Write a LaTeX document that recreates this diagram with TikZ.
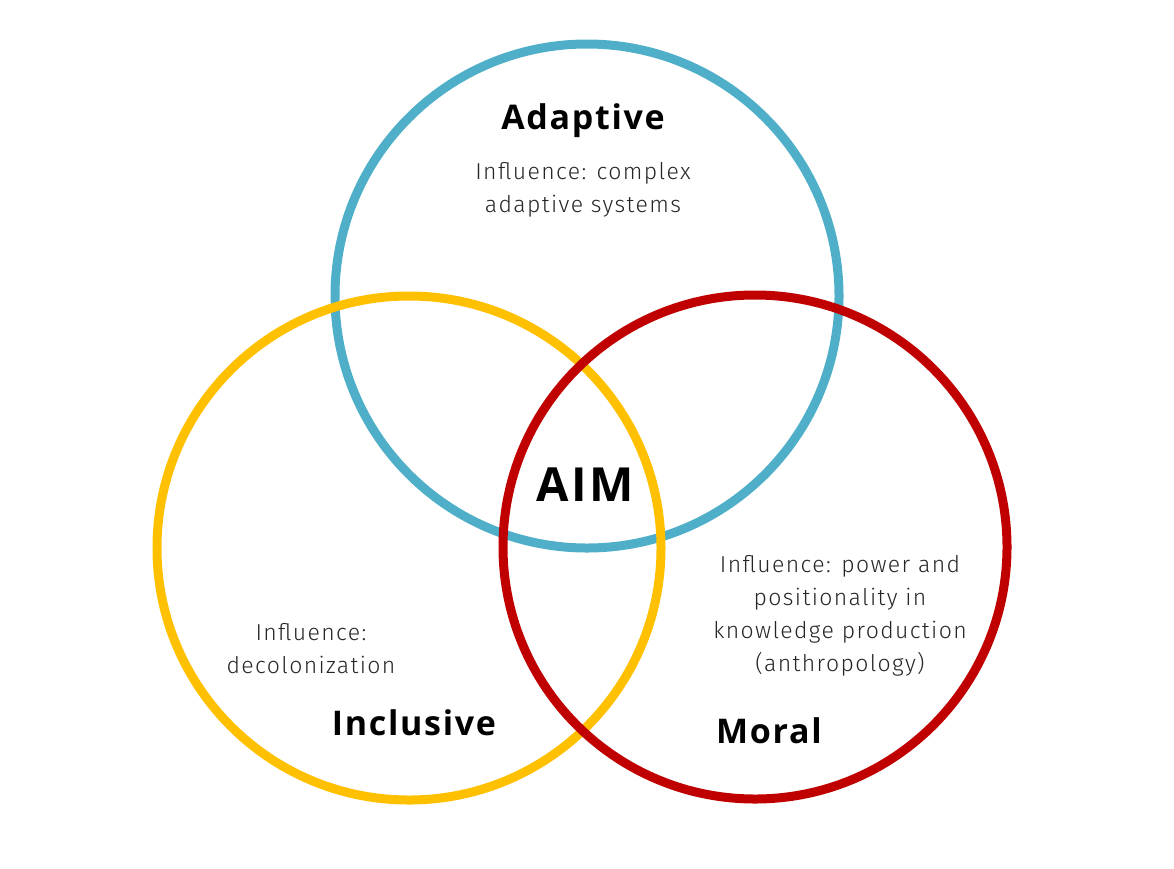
\documentclass[tikz,border=0pt]{standalone}
\usepackage{fontspec}
\setmainfont{Fira Sans}
\newfontfamily\lightfont{Fira Sans Light}[LetterSpace=6]
\newfontfamily\titlefont{Open Sans}[LetterSpace=5]
\definecolor{cblue}{HTML}{4FAFC8}
\definecolor{cyellow}{HTML}{FFC000}
\definecolor{cred}{HTML}{C00000}
\definecolor{ctext}{HTML}{262626}
\begin{document}
\begin{tikzpicture}[x=1pt,y=-1pt,
  ring/.style={line width=9pt},
  title/.style={font=\titlefont\fontsize{34}{38}\selectfont\bfseries, text=black, anchor=base, inner sep=0pt},
  infl/.style={font=\lightfont\fontsize{23}{33}\selectfont, text=ctext, align=center, inner sep=0pt},
]
\useasboundingbox (0,0) rectangle (1174,868);
\node[draw=cblue, ring, circle, minimum size=504pt, inner sep=0pt] (blue) at (587,296) {};
\node[draw=cyellow, ring, circle, minimum size=504pt, inner sep=0pt] (yellow) at (409,548) {};
\node[draw=cred, ring, circle, minimum size=504pt, inner sep=0pt] (red) at (755,547) {};
\node[title] (adaptive) at (583,129) {Adaptive};
\node[infl] (inflA) at (583,190) {Influence: complex\\adaptive systems};
\node[title] (inclusive) at (414,735) {Inclusive};
\node[infl] (inflI) at (311,649) {Influence:\\decolonization};
\node[title] (moral) at (769,743) {Moral};
\node[infl] (inflM) at (840,616) {Influence: power and\\positionality in\\knowledge production\\(anthropology)};
\node[font=\titlefont\fontsize{47}{50}\selectfont\bfseries, anchor=base, inner sep=0pt] (aim) at (585,501) {AIM};
\end{tikzpicture}
\end{document}
